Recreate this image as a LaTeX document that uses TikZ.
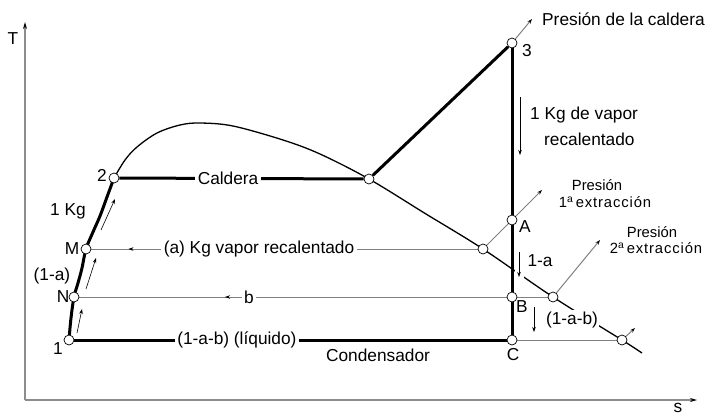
\documentclass[tikz,border=0pt]{standalone}
\usepackage{fontspec}
\setmainfont{Liberation Sans}
\newfontfamily\spaced[LetterSpace=6]{Liberation Sans}
\usetikzlibrary{arrows.meta,decorations.markings}
\pgfdeclarelayer{bg}
\pgfsetlayers{bg,main}
\begin{document}
\begin{tikzpicture}[x=1pt,y=-1pt,
  font=\fontsize{17.3}{20}\selectfont,
  pt/.style={circle,draw,fill=white,inner sep=0pt,minimum size=10pt,line width=0.7pt},
  thickln/.style={line width=3pt},
  thinln/.style={draw=black!50,line width=1pt},
  axisln/.style={draw=black!45,line width=1.2pt,-{Stealth[length=7pt,width=4pt,color=black]}},
  domeln/.style={line width=1.3pt},
  tip/.style={-{Stealth[length=5pt,width=3.5pt,color=black]}},
  smallarr/.style={line width=0.6pt,tip},
  lbl/.style={fill=white,inner sep=2.5pt},
  small/.style={font=\fontsize{14.8}{16}\selectfont},
  revarrow/.style={postaction={decorate,decoration={markings,mark=at position #1 with {\arrowreversed[color=black]{Stealth[length=5pt,width=3.5pt]}}}}}
]
\useasboundingbox (0,0) rectangle (711,416);

% state points
\node[pt] (p1) at (69,340) {};
\node[pt] (pN) at (74,297) {};
\node[pt] (pM) at (86,249) {};
\node[pt] (p2) at (114,178) {};
\node[pt] (pX) at (369,179) {};
\node[pt] (p3) at (512,43) {};
\node[pt] (pA) at (512,220) {};
\node[pt] (pB) at (512,297) {};
\node[pt] (pC) at (512,340) {};
\node[pt] (e1) at (483,249) {};
\node[pt] (e2) at (553,297) {};
\node[pt] (e3) at (622,340) {};

% free ends
\coordinate (o) at (25,400);
\coordinate (ty) at (25,22);
\coordinate (sx) at (697,400);
\coordinate (t0) at (532,19);
\coordinate (t1) at (542,190);
\coordinate (t2) at (600,240);
\coordinate (t3) at (635,328);
\coordinate (v1s) at (520,97);   \coordinate (v1e) at (520,155);
\coordinate (v2s) at (519,252);  \coordinate (v2e) at (519,277);
\coordinate (v3s) at (534,307);  \coordinate (v3e) at (534,332);
\coordinate (a1s) at (101,230);  \coordinate (a1e) at (115,199);
\coordinate (a2s) at (86,289);   \coordinate (a2e) at (96,258);
\coordinate (a3s) at (77,333);   \coordinate (a3e) at (82,309);
\coordinate (h1) at (519,262);   \coordinate (h2) at (519,281);

\begin{pgfonlayer}{bg}
% axes
\draw[axisln] (o) -- (ty);
\draw[axisln] (o) -- (sx);
% saturation dome
\draw[domeln] plot[smooth,tension=0.55] coordinates {(114,178) (125,160) (137,147) (157,133) (180,125) (200,123) (233,126) (283,140) (320,154) (369,179) (426,214) (483,249) (553,297) (622,340) (642,353)};
% white halo where the 1-a arrow crosses the dome
\draw[white,line width=9pt] (h1) -- (h2);
% thin extraction lines
\draw[thinln,revarrow=0.096] (pM) -- node[lbl,pos=0.434]{(a) Kg vapor recalentado} (e1);
\draw[thinln,revarrow=0.311] (pN) -- node[lbl,pos=0.362]{b} (e2);
\draw[thinln] (pC) -- (e3);
\draw[thinln,tip] (e1) -- (t1);
\draw[thinln,tip] (e2) -- (t2);
\draw[thinln,tip] (e3) -- (t3);
\draw[thinln,tip] (p3) -- (t0);
% cycle
\draw[thickln] plot[smooth,tension=0.6] coordinates {(69,340) (71,318) (74,297) (78,283) (82,268) (86,249) (93,232) (100,216) (107,197) (114,178)};
\draw[thickln] (p2) -- node[lbl,pos=0.445]{Caldera} (pX);
\draw[thickln] (pX) -- (p3);
\draw[thickln] (p3.center) -- (pC.center);
\draw[thickln] (p1) -- node[lbl,pos=0.376]{(1-a-b) (líquido)} (pC);
% labels on the expansion side
\node[lbl,inner sep=1.5pt] (l1ab) at (572,320) {(1-a-b)};
\end{pgfonlayer}

% flow arrows
\draw[smallarr] (v1s) -- (v1e);
\draw[smallarr] (v2s) -- (v2e);
\draw[smallarr] (v3s) -- (v3e);
\draw[smallarr] (a1s) -- (a1e);
\draw[smallarr] (a2s) -- (a2e);
\draw[smallarr] (a3s) -- (a3e);

% texts
\node (lT) at (13,39) {T};
\node (ls) at (678,408) {s};
\node (l2) at (102,175) {2};
\node (lM) at (72,249) {M};
\node (lN) at (63,297) {N};
\node (l1) at (58,349) {1};
\node (l1kg) at (68,211) {1 Kg};
\node (l1a) at (52,276) {(1-a)};
\node (l3) at (527,51) {3};
\node (lA) at (525,227) {A};
\node (lB) at (522,307) {B};
\node (lC) at (513,355) {C};
\node (lcond) at (378,355) {Condensador};
\node[anchor=west,inner sep=0pt] (lpc) at (542,19) {Presión de la caldera};
\node[anchor=west,inner sep=0pt] (lv1) at (530,115) {1 Kg de vapor};
\node[anchor=west,inner sep=0pt] (lv2) at (544,139) {recalentado};
\node (lma) at (540,261) {1-a};
\node[small] (lp1) at (597,185) {Presión};
\node[small] (lx1) at (605,202) {1\textsuperscript{a}\,{\spaced extracción}};
\node[small] (lp2) at (652,232) {Presión};
\node[small] (lx2) at (656,248) {2\textsuperscript{a}\,{\spaced extracción}};
\end{tikzpicture}
\end{document}
